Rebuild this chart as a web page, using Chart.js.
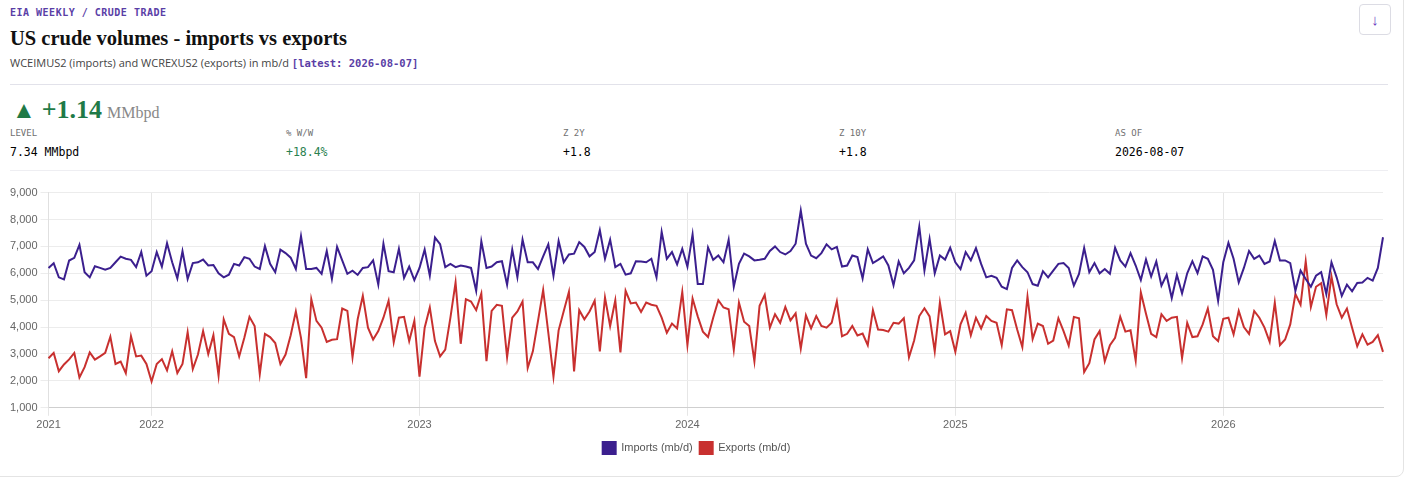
<!DOCTYPE html>
<html>
<head>
<meta charset="utf-8">
<script src="https://cdn.jsdelivr.net/npm/chart.js@4.4.1/dist/chart.umd.min.js"></script>
<style>
  body { margin: 0; background: #fff; width: 1411px; height: 485px; overflow: hidden; position: relative; font-family: "Open Sans", sans-serif; }
  .card { position: absolute; left: -12px; top: -12px; width: 1416px; height: 489px; border: 1px solid #e4e4e4; border-radius: 8px; box-sizing: border-box; }
  .abs { position: absolute; white-space: nowrap; }
  .mono { font-family: "DejaVu Sans Mono", monospace; }
  .kicker { left: 10px; top: 6px; line-height: 14px; font-size: 10px; font-weight: bold; color: #5a3ea6; letter-spacing: 0.5px; }
  .title { left: 10px; top: 26px; line-height: 24px; font-family: "Liberation Serif", serif; font-weight: bold; font-size: 20.5px; color: #111; }
  .sub { left: 10px; top: 55px; line-height: 16px; font-size: 11px; color: #444; }
  .sub .mono { color: #5a3ea6; font-weight: bold; font-size: 10.5px; }
  .rule { position: absolute; left: 10px; width: 1378px; height: 1px; background: #e2e2ea; }
  .big { left: 12px; top: 94px; line-height: 30px; color: #1f7a47; }
  .big .tri { font-size: 24px; vertical-align: 0px; }
  .big .num { font-family: "Liberation Serif", serif; font-weight: bold; font-size: 26px; margin-left: 6px; }
  .big .unit { font-family: "Liberation Serif", serif; font-size: 16px; color: #888; margin-left: 5px; }
  .lab { top: 127px; line-height: 12px; font-size: 9px; color: #707070; }
  .val { top: 144px; line-height: 16px; font-size: 11.5px; color: #000; }
  .green { color: #2a8150; }
  .btn { position: absolute; left: 1359px; top: 4px; width: 32px; height: 31px; box-sizing: border-box; border: 1px solid #dcdce4; border-radius: 4px; color: #6a3cc0; font-size: 15px; font-weight: bold; text-align: center; line-height: 28px; }
  #wrap { position: absolute; left: 7px; top: 183px; width: 1379px; height: 281px; }
</style>
</head>
<body>
<div class="card"></div>
<div class="abs mono kicker">EIA WEEKLY / CRUDE TRADE</div>
<div class="abs title">US crude volumes - imports vs exports</div>
<div class="abs sub">WCEIMUS2 (imports) and WCREXUS2 (exports) in mb/d <span class="mono">[latest: 2026-08-07]</span></div>
<div class="btn">&#8595;</div>
<div class="rule" style="top:84px"></div>
<div class="abs big"><span class="tri">&#9650;</span><span class="num">+1.14</span><span class="unit">MMbpd</span></div>
<div class="abs mono lab" style="left:10px">LEVEL</div>
<div class="abs mono lab" style="left:286px">% W/W</div>
<div class="abs mono lab" style="left:563px">Z 2Y</div>
<div class="abs mono lab" style="left:839px">Z 10Y</div>
<div class="abs mono lab" style="left:1115px">AS OF</div>
<div class="abs mono val" style="left:10px">7.34 MMbpd</div>
<div class="abs mono val green" style="left:286px">+18.4%</div>
<div class="abs mono val" style="left:563px">+1.8</div>
<div class="abs mono val" style="left:839px">+1.8</div>
<div class="abs mono val" style="left:1115px">2026-08-07</div>
<div class="rule" style="top:170px;background:#eeeef2"></div>
<div id="wrap"><canvas id="line-chart"></canvas></div>
<script>
// weekly observations, first week ending 2021-08-20
const startDate = '2021-08-20';

const imports = [
  6200, 6375, 5850, 5775, 6475, 6575, 7060, 6040, 5850, 6260,
  6200, 6130, 6200, 6410, 6620, 6540, 6500, 6230, 6790, 5910,
  6080, 6790, 6250, 7120, 6410, 5810, 6820, 5790, 6380, 6410,
  6510, 6290, 6310, 6000, 5850, 5950, 6350, 6290, 6600, 6540,
  6250, 6160, 7010, 6350, 6040, 6880, 6750, 6580, 6160, 7380,
  6160, 6160, 6200, 5980, 6830, 5790, 6980, 6480, 5980, 6100,
  5940, 6200, 6230, 6480, 5580, 7100, 6080, 6040, 6910, 5830,
  6250, 5750, 6200, 6880, 5910, 7330, 7080, 6230, 6350, 6230,
  6290, 6250, 6200, 5350, 7190, 6200, 6250, 6410, 6450, 5580,
  6880, 5850, 7250, 6410, 6410, 6160, 6630, 7080, 5910, 7200,
  6410, 6700, 6730, 7160, 6980, 6630, 6790, 7600, 6540, 7250,
  6230, 6350, 5950, 6000, 6450, 6440, 6410, 6540, 5850, 7540,
  6540, 6790, 6330, 6910, 6250, 7450, 5600, 5600, 6960, 6500,
  6660, 6410, 7250, 5500, 6350, 6730, 6630, 6480, 6500, 6540,
  6830, 7000, 6790, 6700, 6830, 7100, 8330, 7100, 6660, 6560,
  6750, 7080, 6890, 6980, 6250, 6290, 6660, 6600, 5810, 6890,
  6380, 6500, 6630, 6290, 5560, 6440, 6000, 6200, 6480, 7730,
  6100, 7280, 6000, 6660, 6510, 6950, 6410, 6160, 6790, 6480,
  6940, 6350, 5850, 5910, 5830, 5500, 5410, 6200, 6480, 6230,
  6040, 5600, 5540, 6080, 5850, 6100, 6350, 6380, 6200, 5540,
  5980, 6940, 6040, 6380, 6000, 6160, 5980, 6950, 6480, 6250,
  6750, 6290, 5750, 6510, 5880, 6440, 5540, 5940, 5080, 5940,
  5250, 6000, 6450, 6010, 6630, 6540, 6130, 4980, 6410, 7130,
  6540, 5660, 6200, 6830, 6540, 6660, 6350, 6440, 7200, 6480,
  6480, 6380, 5350, 6100, 5790, 5500, 5910, 6040, 5230, 6410,
  5850, 5160, 5580, 5330, 5640, 5660, 5830, 5730, 6200, 7340
];

const exports = [
  2840, 3040, 2360, 2610, 2800, 3040, 2130, 2510, 3060, 2790,
  2910, 3040, 3640, 2630, 2720, 2290, 3660, 2910, 2940, 2630,
  1980, 2630, 2810, 2390, 3100, 2290, 2630, 3810, 2440, 2980,
  3850, 3000, 3700, 2200, 4290, 3750, 3630, 2910, 3600, 4380,
  4040, 2250, 3750, 3630, 3410, 2630, 2980, 3700, 4580, 3600,
  2100, 5040, 4230, 3980, 3450, 3530, 3550, 4690, 4600, 2880,
  4290, 5160, 3980, 3540, 3850, 4350, 4980, 3440, 4350, 4380,
  3480, 4230, 2160, 3980, 4730, 3480, 2910, 3160, 4350, 5660,
  3380, 5040, 4950, 4630, 5250, 2730, 4600, 4830, 4790, 2880,
  4350, 4580, 4950, 2480, 3100, 4230, 5380, 3790, 2160, 3880,
  4600, 5310, 2350, 4630, 4290, 4580, 4980, 3100, 5100, 4040,
  5000, 3060, 5350, 4880, 4910, 4560, 4910, 4830, 4790, 4350,
  3790, 4130, 3950, 5310, 3330, 5060, 4400, 3830, 3630, 4350,
  5000, 4730, 4660, 3160, 4910, 4200, 4040, 2730, 4790, 5200,
  3980, 4480, 4160, 4750, 4250, 4510, 3200, 4440, 3950, 4410,
  4040, 3980, 4160, 4950, 3660, 3750, 4040, 3690, 3760, 3330,
  4630, 3910, 3890, 3830, 4160, 4130, 4330, 2880, 3500, 4410,
  4700, 4400, 3100, 4910, 3730, 3850, 3080, 4100, 4540, 3700,
  4350, 3950, 4410, 4230, 4160, 3330, 4660, 4630, 3910, 3260,
  5130, 3560, 4130, 4040, 3380, 3500, 4330, 3850, 3310, 4380,
  4330, 2330, 2660, 3540, 3850, 2730, 3330, 3600, 4380, 3830,
  3880, 2760, 5290, 4500, 3750, 3630, 4480, 4230, 4350, 4380,
  2850, 4160, 3630, 3660, 4100, 4690, 3660, 3480, 4310, 4350,
  3730, 4600, 4000, 3750, 4600, 4350, 3980, 3450, 4910, 3330,
  3540, 4100, 5230, 4830, 6440, 4750, 5500, 5630, 4450, 5880,
  4850, 4350, 4690, 3980, 3290, 3730, 3350, 3450, 3700, 3080
];

// week-ending dates for the category axis
const weeks = [];
const d0 = new Date(startDate + 'T00:00:00Z');
for (let i = 0; i < imports.length; i++) {
  const d = new Date(d0.getTime() + i * 7 * 86400000);
  weeks.push(d.toISOString().slice(0, 10));
}

// show the year only on the first week of each year (and the first point)
function yearLabel(i) {
  const y = weeks[i].slice(0, 4);
  if (i === 0 || weeks[i - 1].slice(0, 4) !== y) return y;
  return '';
}

Chart.defaults.font.family = "'Liberation Sans', Arial, sans-serif";

const ctx = document.getElementById('line-chart');

new Chart(ctx, {
  type: 'line',
  data: {
    labels: weeks,
    datasets: [{
      label: 'Imports (mb/d)',
      data: imports,
      borderColor: '#3b1f8e',
      backgroundColor: '#3b1f8e',
      borderWidth: 2,
      pointRadius: 0,
      tension: 0
    }, {
      label: 'Exports (mb/d)',
      data: exports,
      borderColor: '#c8302f',
      backgroundColor: '#c8302f',
      borderWidth: 2,
      pointRadius: 0,
      tension: 0
    }]
  },
  options: {
    responsive: true,
    maintainAspectRatio: false,
    animation: false,
    plugins: {
      legend: {
        position: 'bottom',
        labels: {
          boxWidth: 13,
          boxHeight: 12,
          padding: 7,
          color: '#555',
          font: { size: 11 }
        }
      },
      tooltip: { enabled: false }
    },
    scales: {
      x: {
        ticks: {
          autoSkip: false,
          maxRotation: 0,
          minRotation: 0,
          color: '#666',
          font: { size: 11 },
          callback: (value, index) => yearLabel(index)
        },
        grid: {
          color: (c) => (c.index !== undefined && yearLabel(c.index)) ? '#e6e6e6' : 'rgba(0,0,0,0)'
        },
        border: { color: '#cfcfcf' }
      },
      y: {
        min: 1000,
        max: 9000,
        ticks: {
          stepSize: 1000,
          color: '#666',
          font: { size: 11 }
        },
        grid: { color: '#ececec' },
        border: { color: '#e0e0e0' }
      }
    }
  }
});
</script>
</body>
</html>
